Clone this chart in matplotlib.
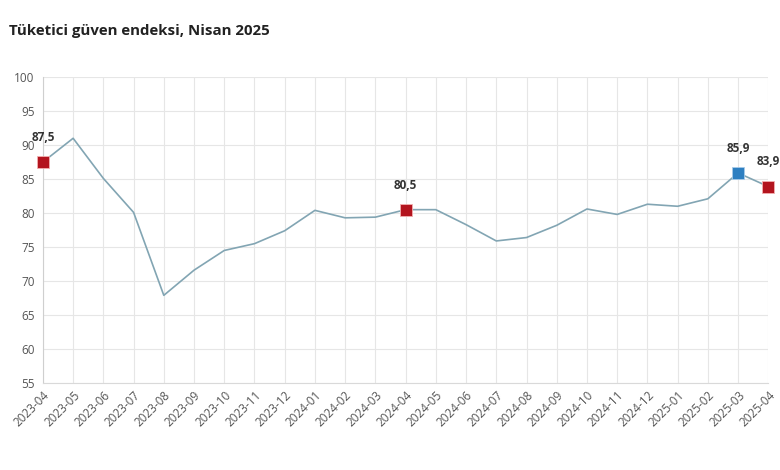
import matplotlib
matplotlib.use("Agg")
import matplotlib.pyplot as plt

months = ["2023-04", "2023-05", "2023-06", "2023-07", "2023-08", "2023-09",
          "2023-10", "2023-11", "2023-12", "2024-01", "2024-02", "2024-03",
          "2024-04", "2024-05", "2024-06", "2024-07", "2024-08", "2024-09",
          "2024-10", "2024-11", "2024-12", "2025-01", "2025-02", "2025-03",
          "2025-04"]
values = [87.5, 91.0, 85.1, 80.1, 67.9, 71.6, 74.5, 75.5, 77.4, 80.4, 79.3,
          79.4, 80.5, 80.5, 78.3, 75.9, 76.4, 78.2, 80.6, 79.8, 81.3, 81.0,
          82.1, 85.9, 83.9]

# highlighted points: index -> colour
red_points = [0, 12, 24]
blue_points = [23]

plt.rcParams['font.family'] = ['Open Sans', 'DejaVu Sans']

fig = plt.figure(figsize=(7.8, 4.7), dpi=100)
ax = fig.add_axes([0.055, 0.185, 0.93, 0.651])

x = list(range(len(months)))
ax.plot(x, values, color='#82a5b3', linewidth=1.2, zorder=2)

for i in red_points + blue_points:
    c = '#b3141e' if i in red_points else '#2d7fc1'
    ax.plot(x[i], values[i], marker='s', markersize=9, color=c,
            markeredgecolor='#f3b0b0' if i in red_points else '#a8cbe8',
            markeredgewidth=0.6, zorder=3, clip_on=False)
    label = f"{values[i]:.1f}".replace('.', ',')
    ax.annotate(label, (x[i], values[i]), xytext=(0, 13),
                textcoords='offset points', ha='center', va='bottom',
                fontsize=8.5, fontweight='bold', color='#333333')

ax.set_xlim(0, len(months) - 1)
ax.set_ylim(55, 100)
ax.set_yticks(range(55, 101, 5))
ax.set_xticks(x)
ax.set_xticklabels(months, rotation=45, ha='right', rotation_mode='anchor')

ax.grid(True, color='#e6e6e6', linewidth=0.8)
ax.set_axisbelow(True)
for s in ['top', 'right']:
    ax.spines[s].set_visible(False)
ax.spines['left'].set_color('#cfcfcf')
ax.spines['bottom'].set_color('#d9d9d9')
ax.tick_params(axis='both', length=0, colors='#555555', labelsize=8.5)
ax.tick_params(axis='y', pad=6)
ax.tick_params(axis='x', pad=4)

fig.text(0.012, 0.935, "Tüketici güven endeksi, Nisan 2025", fontsize=10.8,
         fontweight='bold', color='#222222', va='center')

fig.savefig("out.png", dpi=100, facecolor='white')
